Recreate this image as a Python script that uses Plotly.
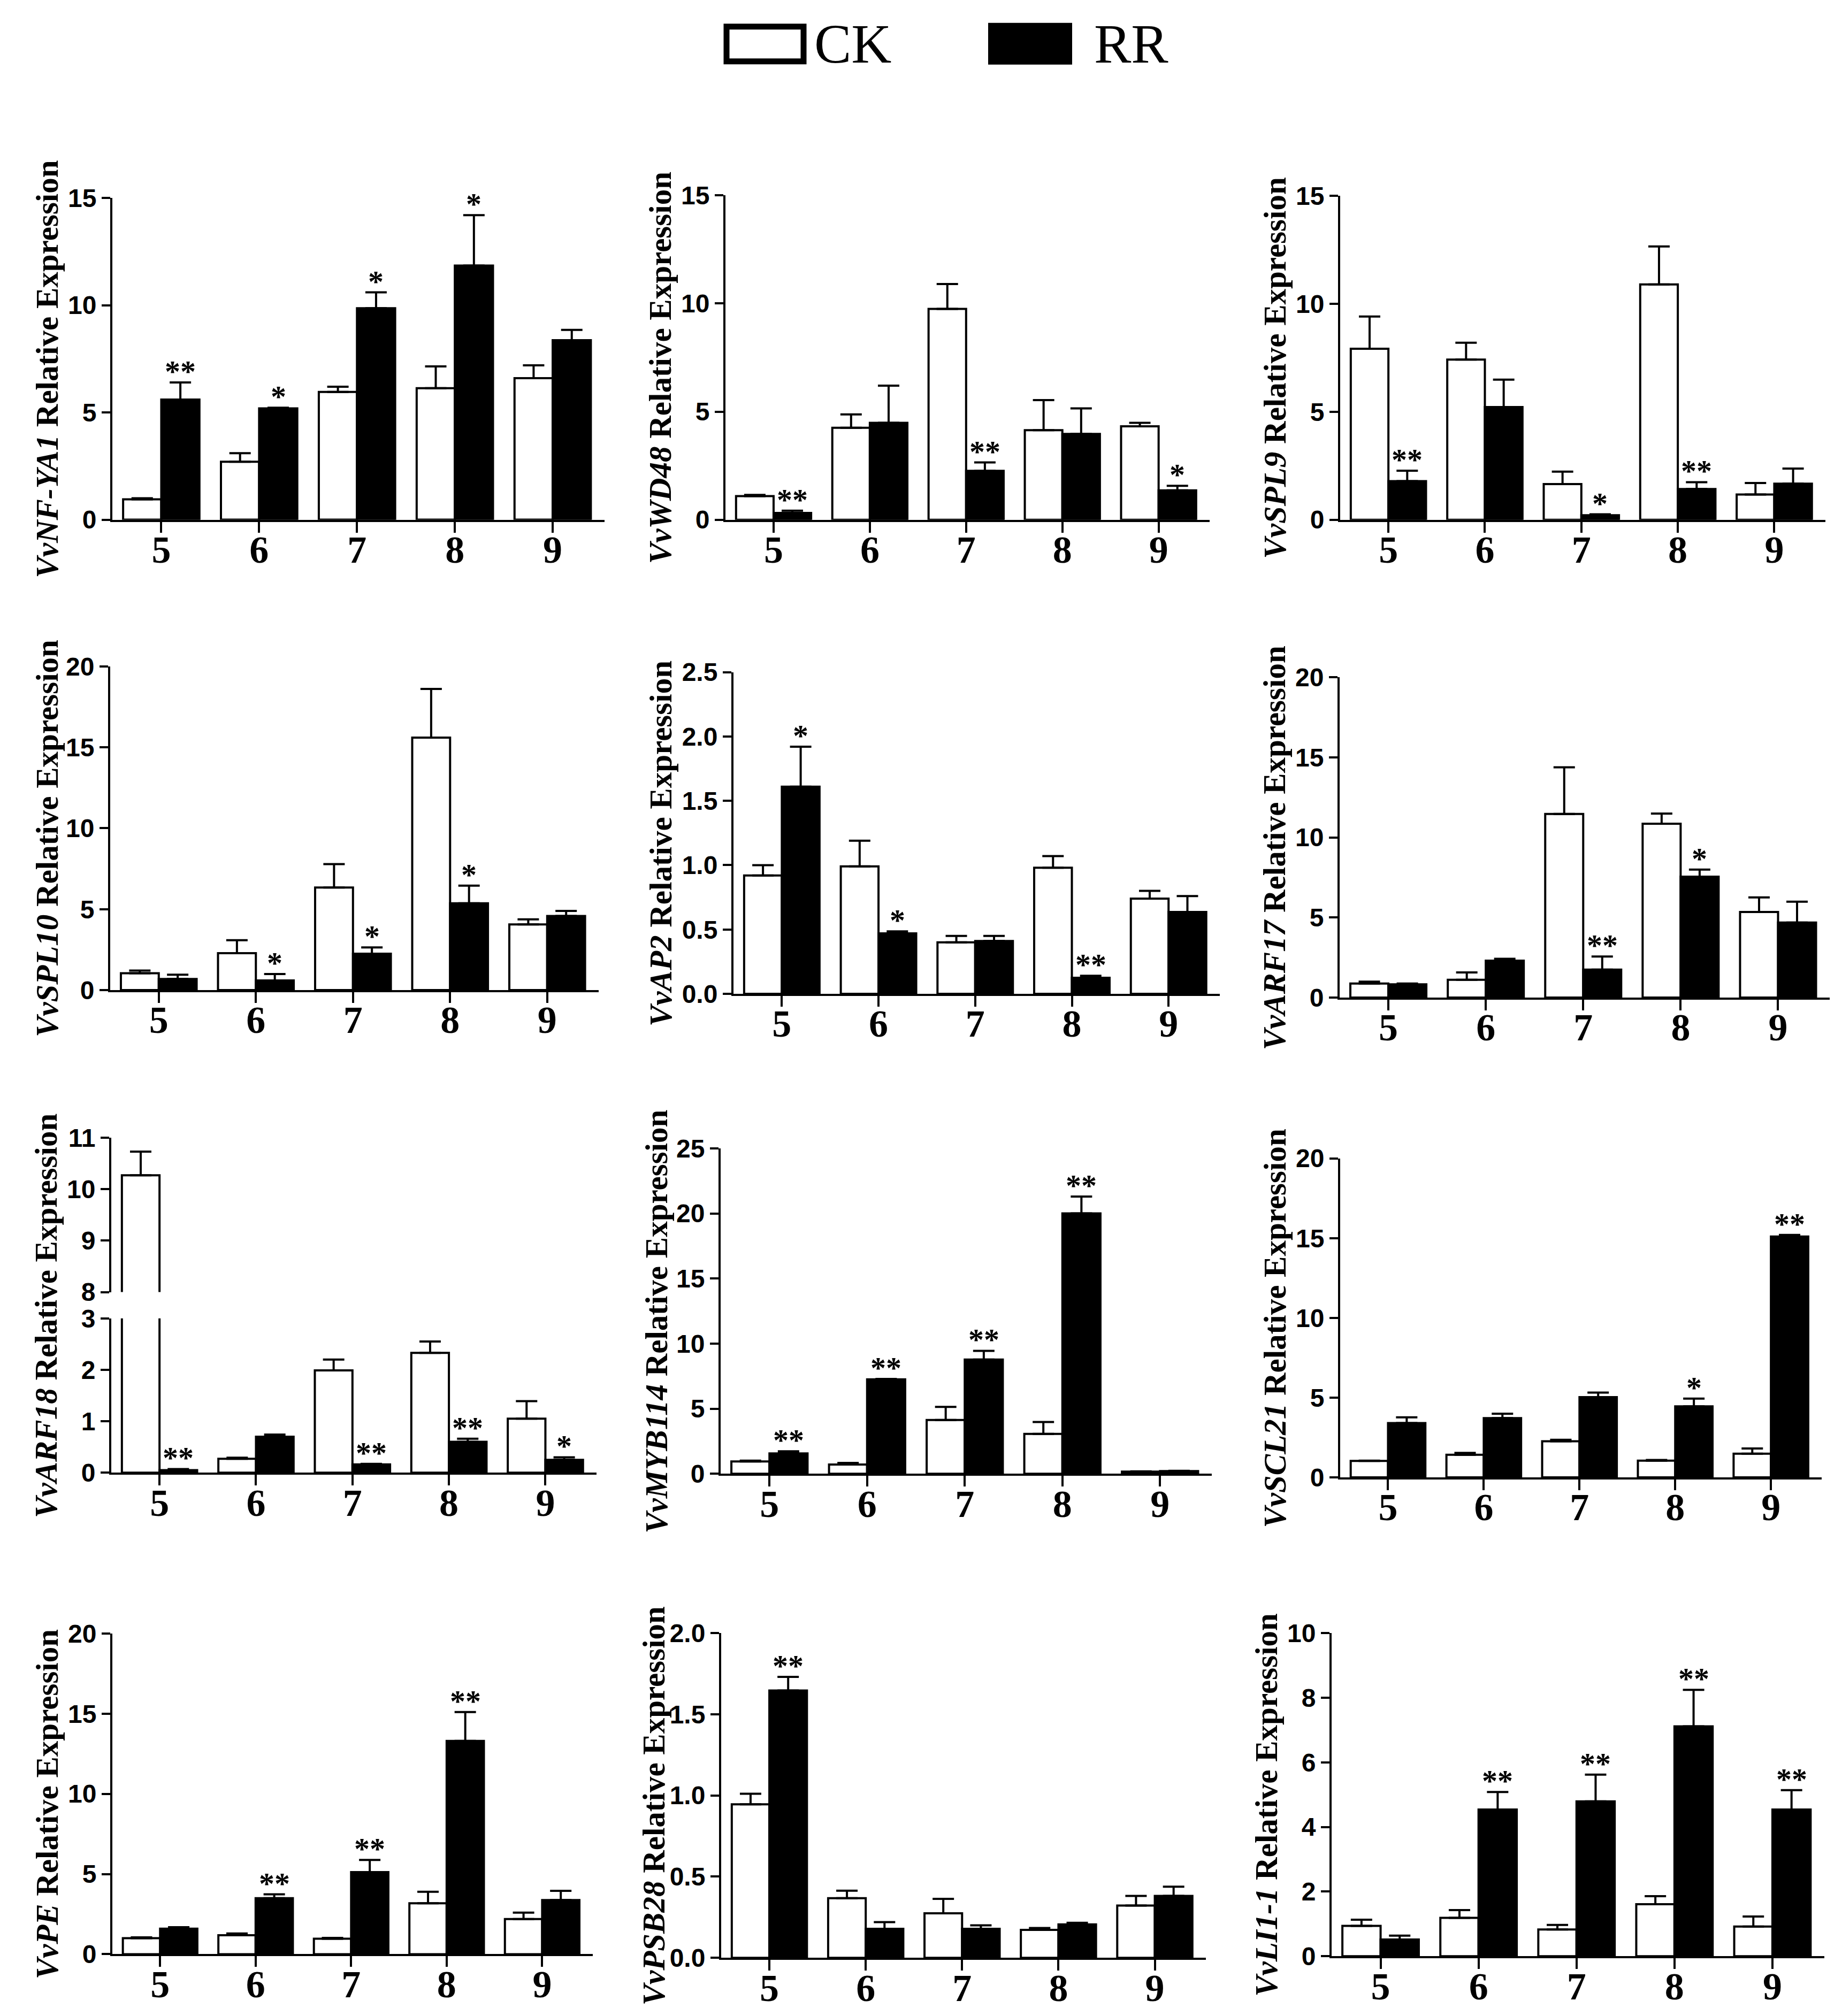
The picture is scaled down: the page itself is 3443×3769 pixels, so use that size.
import plotly.graph_objects as go

W, H = 3443, 3769

weeks = ["5", "6", "7", "8", "9"]

genes = ["VvNF-YA1", "VvWD48", "VvSPL9", "VvSPL10", "VvAP2", "VvARF17",
         "VvARF18", "VvMYB114", "VvSCL21", "VvPE", "VvPSB28", "VvLI1-1"]

# means and SE (CK = control, RR = treatment)
nfya1_ck = [0.95, 2.7, 5.96, 6.13, 6.6]
nfya1_ck_se = [0.05, 0.4, 0.24, 1.02, 0.6]
nfya1_rr = [5.6, 5.19, 9.86, 11.85, 8.37]
nfya1_rr_se = [0.8, 0.03, 0.74, 2.35, 0.48]
nfya1_sig = ["**", "*", "*", "*", ""]

wd48_ck = [1.09, 4.25, 9.75, 4.14, 4.32]
wd48_ck_se = [0.06, 0.62, 1.15, 1.39, 0.16]
wd48_rr = [0.31, 4.48, 2.26, 3.97, 1.36]
wd48_rr_se = [0.11, 1.72, 0.39, 1.18, 0.21]
wd48_sig = ["**", "", "**", "", "*"]

spl9_ck = [7.92, 7.42, 1.65, 10.9, 1.17]
spl9_ck_se = [1.49, 0.78, 0.58, 1.76, 0.53]
spl9_rr = [1.79, 5.22, 0.21, 1.42, 1.67]
spl9_rr_se = [0.48, 1.27, 0.04, 0.32, 0.7]
spl9_sig = ["**", "", "*", "**", ""]

spl10_ck = [1.04, 2.28, 6.34, 15.6, 4.06]
spl10_ck_se = [0.17, 0.8, 1.44, 3.0, 0.31]
spl10_rr = [0.69, 0.6, 2.25, 5.36, 4.58]
spl10_rr_se = [0.26, 0.39, 0.39, 1.09, 0.31]
spl10_sig = ["", "*", "*", "*", ""]

ap2_ck = [0.92, 0.99, 0.40, 0.98, 0.74]
ap2_ck_se = [0.08, 0.2, 0.05, 0.09, 0.06]
ap2_rr = [1.61, 0.47, 0.41, 0.125, 0.636]
ap2_rr_se = [0.31, 0.015, 0.04, 0.015, 0.124]
ap2_sig = ["*", "*", "", "**", ""]

arf17_ck = [0.87, 1.11, 11.47, 10.86, 5.34]
arf17_ck_se = [0.12, 0.46, 2.91, 0.63, 0.91]
arf17_rr = [0.82, 2.3, 1.74, 7.55, 4.68]
arf17_rr_se = [0.05, 0.12, 0.82, 0.44, 1.31]
arf17_sig = ["", "", "**", "*", ""]

arf18_ck = [10.27, 0.27, 1.99, 2.33, 1.05]
arf18_ck_se = [0.46, 0.02, 0.21, 0.22, 0.34]
arf18_rr = [0.05, 0.70, 0.16, 0.60, 0.25]
arf18_rr_se = [0.02, 0.04, 0.01, 0.06, 0.05]
arf18_sig = ["**", "", "**", "**", "*"]

myb114_ck = [0.94, 0.71, 4.13, 3.06, 0.16]
myb114_ck_se = [0.06, 0.12, 1.0, 0.91, 0.02]
myb114_rr = [1.56, 7.25, 8.77, 20.0, 0.2]
myb114_rr_se = [0.16, 0.03, 0.67, 1.3, 0.02]
myb114_sig = ["**", "**", "**", "**", ""]

scl21_ck = [1.03, 1.42, 2.27, 1.05, 1.49]
scl21_ck_se = [0.02, 0.12, 0.09, 0.04, 0.32]
scl21_rr = [3.41, 3.72, 5.03, 4.45, 15.1]
scl21_rr_se = [0.36, 0.27, 0.29, 0.49, 0.1]
scl21_sig = ["", "", "", "*", "**"]

pe_ck = [1.0, 1.18, 0.96, 3.17, 2.19]
pe_ck_se = [0.05, 0.11, 0.05, 0.72, 0.4]
pe_rr = [1.59, 3.49, 5.12, 13.3, 3.37]
pe_rr_se = [0.09, 0.24, 0.76, 1.8, 0.58]
pe_sig = ["", "**", "**", "**", ""]

psb28_ck = [0.945, 0.367, 0.274, 0.172, 0.322]
psb28_ck_se = [0.065, 0.046, 0.089, 0.012, 0.059]
psb28_rr = [1.646, 0.179, 0.179, 0.206, 0.381]
psb28_rr_se = [0.084, 0.041, 0.021, 0.01, 0.057]
psb28_sig = ["**", "", "", "", ""]

li11_ck = [0.94, 1.19, 0.83, 1.61, 0.92]
li11_ck_se = [0.19, 0.24, 0.14, 0.25, 0.31]
li11_rr = [0.52, 4.54, 4.79, 7.11, 4.54]
li11_rr_se = [0.12, 0.54, 0.83, 1.13, 0.6]
li11_sig = ["", "**", "**", "**", "**"]

# y axis max and tick step for each panel
y_max = [15, 15, 15, 20, 2.5, 20, 3, 25, 20, 20, 2.0, 10]
y_step = [5, 5, 5, 5, 0.5, 5, 1, 5, 5, 5, 0.5, 2]

panels = [
    (nfya1_ck, nfya1_ck_se, nfya1_rr, nfya1_rr_se, nfya1_sig),
    (wd48_ck, wd48_ck_se, wd48_rr, wd48_rr_se, wd48_sig),
    (spl9_ck, spl9_ck_se, spl9_rr, spl9_rr_se, spl9_sig),
    (spl10_ck, spl10_ck_se, spl10_rr, spl10_rr_se, spl10_sig),
    (ap2_ck, ap2_ck_se, ap2_rr, ap2_rr_se, ap2_sig),
    (arf17_ck, arf17_ck_se, arf17_rr, arf17_rr_se, arf17_sig),
    (arf18_ck, arf18_ck_se, arf18_rr, arf18_rr_se, arf18_sig),
    (myb114_ck, myb114_ck_se, myb114_rr, myb114_rr_se, myb114_sig),
    (scl21_ck, scl21_ck_se, scl21_rr, scl21_rr_se, scl21_sig),
    (pe_ck, pe_ck_se, pe_rr, pe_rr_se, pe_sig),
    (psb28_ck, psb28_ck_se, psb28_rr, psb28_rr_se, psb28_sig),
    (li11_ck, li11_ck_se, li11_rr, li11_rr_se, li11_sig),
]

# plot boxes in pixels: left, right, top, bottom
boxes = [
    (202, 1122, 341, 951), (1348, 2253, 336, 951), (2497, 3404, 337, 951),
    (198, 1111, 1229, 1843), (1363, 2272, 1240, 1850), (2496, 3412, 1250, 1857),
    (200, 1107, 2123, 2758), (1339, 2257, 2143, 2760), (2497, 3397, 2162, 2767),
    (202, 1100, 3063, 3671), (1340, 2246, 3062, 3678), (2481, 3402, 3062, 3675),
]
# distance of the y title from the y axis line
title_gap = [122, 122, 122, 118, 136, 122, 122, 120, 122, 122, 126, 122]

BARGAP = 0.22
half = (1 - BARGAP) / 2
LW = 4
serif = "Liberation Serif, Times New Roman, serif"
sans = "Liberation Sans, Arial, sans-serif"


def px(x):
    return x / W


def py(y):
    return 1 - y / H


fig = go.Figure()
layout = {}
annos = []


def add_bars(xa, ya, ck, ck_se, rr, rr_se):
    xs = list(range(len(weeks)))
    fig.add_trace(go.Bar(
        x=xs, y=ck, xaxis=xa, yaxis=ya, name="CK", showlegend=False,
        marker=dict(color="white", line=dict(color="black", width=LW)),
        error_y=dict(type="data", array=ck_se, arrayminus=[0] * 5, symmetric=False,
                     color="black", thickness=LW, width=20),
    ))
    fig.add_trace(go.Bar(
        x=xs, y=rr, xaxis=xa, yaxis=ya, name="RR", showlegend=False,
        marker=dict(color="black", line=dict(color="black", width=LW)),
        error_y=dict(type="data", array=rr_se, arrayminus=[0] * 5, symmetric=False,
                     color="black", thickness=LW, width=20),
    ))


def x_axis(dom, anchor, show=True):
    d = dict(domain=dom, range=[-0.5, 4.53], anchor=anchor, showgrid=False,
             zeroline=False, fixedrange=True)
    if show:
        d.update(tickmode="array", tickvals=list(range(5)), ticktext=weeks,
                 showline=True, linecolor="black", linewidth=LW, ticks="outside",
                 ticklen=20, tickwidth=LW, tickcolor="black", ticklabelstandoff=-30,
                 tickfont=dict(family=serif, size=72, color="black", weight="bold"))
    else:
        d.update(visible=False)
    return d


def y_axis(dom, anchor, rng, step):
    fmt = ".1f" if step < 1 else "d"
    return dict(domain=dom, range=rng, anchor=anchor, dtick=step, tick0=rng[0],
                tickformat=fmt, showgrid=False, zeroline=False, showline=True,
                linecolor="black", linewidth=LW, ticks="outside", ticklen=16,
                tickwidth=LW, tickcolor="black", fixedrange=True,
                tickfont=dict(family=sans, size=48, color="black", weight="bold"))


for i, (ck, ck_se, rr, rr_se, sig) in enumerate(panels):
    n = i + 1
    xa = "x" if n == 1 else "x%d" % n
    ya = "y" if n == 1 else "y%d" % n
    xk = "xaxis" if n == 1 else "xaxis%d" % n
    yk = "yaxis" if n == 1 else "yaxis%d" % n
    l, r, t, b = boxes[i]
    xdom = [px(l), px(r)]
    add_bars(xa, ya, ck, ck_se, rr, rr_se)
    layout[xk] = x_axis(xdom, ya)

    if genes[i] == "VvARF18":
        # broken axis: lower 0-3, upper 8-11
        seg = (b - t - 50) / 2
        layout[yk] = y_axis([py(b), py(b - seg)], xa, [0, 3], 1)
        add_bars("x13", "y13", ck, ck_se, rr, rr_se)
        layout["xaxis13"] = x_axis(xdom, "y13", show=False)
        layout["yaxis13"] = y_axis([py(t + seg), py(t)], "x13", [8, 11], 1)
    else:
        layout[yk] = y_axis([py(b), py(t)], xa, [0, y_max[i]], y_step[i])

    for k, s in enumerate(sig):
        if not s:
            continue
        annos.append(dict(x=k + half / 2, y=rr[k] + rr_se[k], xref=xa, yref=ya,
                          text=s, showarrow=False, xanchor="center", yanchor="bottom",
                          yshift=-14,
                          font=dict(family=serif, size=58, color="black", weight="bold")))

    annos.append(dict(x=px(l - title_gap[i]), y=py((t + b) / 2 + 20), xref="paper", yref="paper",
                      text="<b><i>%s</i> Relative Expression</b>" % genes[i],
                      textangle=-90, showarrow=False, xanchor="center", yanchor="middle",
                      font=dict(family=serif, size=59, color="black")))

# legend drawn at the top
shapes = [
    dict(type="rect", xref="paper", yref="paper", x0=px(1350), x1=px(1494),
         y0=py(82), y1=py(16), line=dict(color="black", width=11), fillcolor="white"),
    dict(type="rect", xref="paper", yref="paper", x0=px(1840), x1=px(1995),
         y0=py(87), y1=py(10), line=dict(color="black", width=2), fillcolor="black"),
]
annos.append(dict(x=px(1512), y=py(48), xref="paper", yref="paper", text="CK",
                  showarrow=False, xanchor="left", yanchor="middle",
                  font=dict(family=serif, size=104, color="black")))
annos.append(dict(x=px(2035), y=py(48), xref="paper", yref="paper", text="RR",
                  showarrow=False, xanchor="left", yanchor="middle",
                  font=dict(family=serif, size=104, color="black")))

fig.update_layout(
    width=W, height=H,
    margin=dict(l=0, r=0, t=0, b=0),
    paper_bgcolor="white", plot_bgcolor="white",
    barmode="group", bargap=BARGAP, bargroupgap=0,
    showlegend=False,
    annotations=annos, shapes=shapes,
    **layout,
)

fig.write_html("out.html")
